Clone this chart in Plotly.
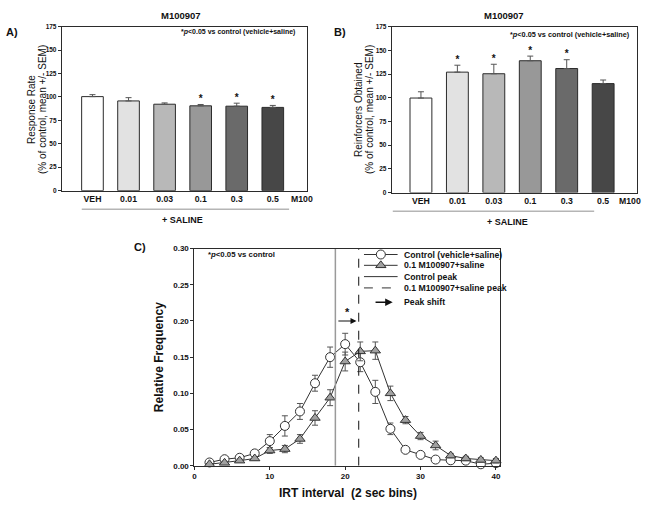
import plotly.graph_objects as go

W, H = 648, 511

# ---- data ----
doses = ["VEH", "0.01", "0.03", "0.1", "0.3", "0.5"]
bar_colors = ["#ffffff", "#e2e2e2", "#b8b8b8", "#989898", "#6a6a6a", "#474747"]

rate = [100.3, 95.7, 92.2, 90.5, 90.1, 88.8]
rate_sem = [2.1, 3.5, 1.4, 1.4, 3.2, 2.1]
rate_sig = [False, False, False, True, True, True]

reinf = [99.7, 127.0, 125.3, 139.0, 130.8, 114.9]
reinf_sem = [6.6, 7.3, 10.0, 4.9, 9.3, 3.8]
reinf_sig = [False, True, True, True, True, False]

irt_bins = [2, 4, 6, 8, 10, 12, 14, 16, 18, 20, 22, 24, 26, 28, 30, 32, 34, 36, 38, 40]
ctrl = [0.0045, 0.009, 0.011, 0.017, 0.034, 0.055, 0.075, 0.114, 0.150, 0.168,
        0.143, 0.102, 0.051, 0.022, 0.015, 0.0085, 0.0075, 0.007, 0.002, 0.0035]
ctrl_sem = [0.002, 0.003, 0.003, 0.004, 0.009, 0.014, 0.011, 0.011, 0.014, 0.015,
            0.013, 0.016, 0.008, 0.003, 0.002, 0.002, 0.002, 0.002, 0.001, 0.002]
drug = [0.002, 0.004, 0.007, 0.010, 0.021, 0.023, 0.037, 0.066, 0.094, 0.144,
        0.158, 0.159, 0.100, 0.063, 0.041, 0.028, 0.014, 0.010, 0.008, 0.007]
drug_sem = [0.001, 0.002, 0.002, 0.002, 0.004, 0.005, 0.006, 0.010, 0.011, 0.013,
            0.013, 0.012, 0.010, 0.005, 0.005, 0.006, 0.003, 0.003, 0.003, 0.003]
peaks = [18.7, 21.8]  # control peak, drug peak

legend_labels = ["Control (vehicle+saline)", "0.1 M100907+saline", "Control peak",
                 "0.1 M100907+saline peak", "Peak shift"]

FONT = "Arial, Liberation Sans, sans-serif"
DARK = "#2b2b2b"


def px_x(p):
    return p / W


def px_y(p):
    return 1 - p / H


fig = go.Figure()

# ---- bar panels A and B ----
pos = list(range(len(doses)))
for xa, ya, vals, sem, sig in [("x", "y", rate, rate_sem, rate_sig),
                               ("x2", "y2", reinf, reinf_sem, reinf_sig)]:
    fig.add_trace(go.Bar(
        x=pos, y=vals, width=0.6, xaxis=xa, yaxis=ya,
        marker=dict(color=bar_colors, line=dict(color=DARK, width=1)),
        error_y=dict(type="data", array=sem, arrayminus=[0] * len(sem), symmetric=False,
                     color="#555555", thickness=1, width=3),
        showlegend=False,
    ))
    # significance stars above the error bars
    sx = [p for p, s in zip(pos, sig) if s]
    sy = [v + e for v, e, s in zip(vals, sem, sig) if s]
    fig.add_trace(go.Scatter(
        x=sx, y=sy, mode="text", text=["*"] * len(sx), textposition="top center",
        textfont=dict(family=FONT, size=10, color="#111", weight="bold"),
        xaxis=xa, yaxis=ya, showlegend=False, cliponaxis=False,
    ))

# ---- panel C ----
fig.add_trace(go.Scatter(
    x=irt_bins, y=ctrl, mode="lines+markers", xaxis="x3", yaxis="y3",
    line=dict(color="#333", width=1),
    marker=dict(symbol="circle", size=9, color="white", line=dict(color="#333", width=1)),
    error_y=dict(type="data", array=ctrl_sem, color="#555", thickness=1, width=3),
    showlegend=False, cliponaxis=False,
))
fig.add_trace(go.Scatter(
    x=irt_bins, y=drug, mode="lines+markers", xaxis="x3", yaxis="y3",
    line=dict(color="#333", width=1),
    marker=dict(symbol="triangle-up", size=9, color="#a0a0a0", line=dict(color="#333", width=1)),
    error_y=dict(type="data", array=drug_sem, color="#555", thickness=1, width=3),
    showlegend=False, cliponaxis=False,
))
fig.add_trace(go.Scatter(
    x=[peaks[0], peaks[0]], y=[0, 0.30], mode="lines", xaxis="x3", yaxis="y3",
    line=dict(color="#9a9a9a", width=1.5), showlegend=False,
))
fig.add_trace(go.Scatter(
    x=[peaks[1], peaks[1]], y=[0, 0.30], mode="lines", xaxis="x3", yaxis="y3",
    line=dict(color="#111", width=1, dash="dash"), showlegend=False,
))
# peak shift arrow
fig.add_annotation(x=peaks[1] - 0.3, y=0.2, ax=peaks[0] + 0.2, ay=0.2,
                   xref="x3", yref="y3", axref="x3", ayref="y3", text="",
                   showarrow=True, arrowhead=2, arrowsize=1, arrowwidth=1.2, arrowcolor="#111")
fig.add_annotation(x=(peaks[0] + peaks[1]) / 2, y=0.2, xref="x3", yref="y3", text="*",
                   showarrow=False, yanchor="bottom", yshift=1,
                   font=dict(family=FONT, size=11, color="#111", weight="bold"))

# ---- compact legend for panel C, drawn by hand ----
rows = [255, 266, 277.5, 289, 303.5]
for i, r in enumerate(rows[:4]):
    fig.add_trace(go.Scatter(x=[0, 1], y=[r, r], mode="lines", xaxis="x4", yaxis="y4",
                             line=dict(color="#333", width=1, dash="dash" if i == 3 else "solid"),
                             showlegend=False, hoverinfo="skip"))
fig.add_trace(go.Scatter(x=[0.5], y=[rows[0]], mode="markers", xaxis="x4", yaxis="y4",
                         marker=dict(symbol="circle", size=9, color="white",
                                     line=dict(color="#333", width=1)),
                         showlegend=False, hoverinfo="skip", cliponaxis=False))
fig.add_trace(go.Scatter(x=[0.5], y=[rows[1]], mode="markers", xaxis="x4", yaxis="y4",
                         marker=dict(symbol="triangle-up", size=9, color="#a0a0a0",
                                     line=dict(color="#333", width=1)),
                         showlegend=False, hoverinfo="skip", cliponaxis=False))
fig.add_annotation(x=0.85, y=rows[4], ax=0.3, ay=rows[4], xref="x4", yref="y4",
                   axref="x4", ayref="y4", text="", showarrow=True, arrowhead=2,
                   arrowsize=1, arrowwidth=1.5, arrowcolor="#111")
for lab, r in zip(legend_labels, rows):
    fig.add_annotation(x=px_x(401), y=r, xref="paper", yref="y4", text=lab,
                       showarrow=False, xanchor="left", yanchor="middle",
                       font=dict(family=FONT, size=8.7, color="#111", weight="bold"))

# ---- axes ----
tickfont_small = dict(family=FONT, size=6.5, color="#111", weight="bold")
bar_x = dict(tickmode="array", tickvals=pos, ticktext=doses, ticks="", showgrid=False,
             zeroline=False, showline=True, linecolor=DARK, mirror=True, linewidth=1,
             tickfont=dict(family=FONT, size=8.7, color="#111", weight="bold"))
bar_y = dict(range=[0, 175], tickvals=[0, 25, 50, 75, 100, 125, 150, 175], ticks="outside",
             ticklen=3, tickcolor=DARK, showgrid=False, zeroline=False, showline=True,
             linecolor=DARK, mirror=True, linewidth=1, tickfont=tickfont_small)

fig.update_layout(
    width=W, height=H, margin=dict(l=0, r=0, t=0, b=0),
    paper_bgcolor="white", plot_bgcolor="white",
    font=dict(family=FONT, color="#111"),
    xaxis=dict(domain=[px_x(60), px_x(306)], range=[-0.85, 5.95], anchor="y", **bar_x),
    yaxis=dict(domain=[px_y(190), px_y(23)], anchor="x", **bar_y),
    xaxis2=dict(domain=[px_x(391), px_x(637)], range=[-0.8, 5.93], anchor="y2", **bar_x),
    yaxis2=dict(domain=[px_y(192), px_y(23)], anchor="x2", **bar_y),
    xaxis3=dict(domain=[px_x(193), px_x(500)], range=[0, 40.6], anchor="y3",
                tickvals=[0, 10, 20, 30, 40], ticks="outside", ticklen=3, tickcolor=DARK,
                showgrid=False, zeroline=False, showline=True, linecolor=DARK, mirror=True,
                tickfont=dict(family=FONT, size=8, color="#111", weight="bold")),
    yaxis3=dict(domain=[px_y(470), px_y(249)], range=[0, 0.30], anchor="x3",
                tickvals=[0, 0.05, 0.10, 0.15, 0.20, 0.25, 0.30], tickformat=".2f",
                ticks="outside", ticklen=3, tickcolor=DARK, showgrid=False, zeroline=False,
                showline=True, linecolor=DARK, mirror=True,
                tickfont=dict(family=FONT, size=8, color="#111", weight="bold")),
    xaxis4=dict(domain=[px_x(363), px_x(397)], range=[0, 1], anchor="y4", visible=False),
    yaxis4=dict(domain=[px_y(308), px_y(250)], range=[308, 250], anchor="x4", visible=False),
)


# ---- text and decorations ----
def ann(x, y, text, size, weight="bold", angle=0, xanchor="center", yanchor="middle"):
    fig.add_annotation(x=px_x(x), y=px_y(y), xref="paper", yref="paper", text=text,
                       showarrow=False, textangle=angle, xanchor=xanchor, yanchor=yanchor,
                       font=dict(family=FONT, size=size, color="#111", weight=weight))


# panel A
ann(180, 12, "M100907", 9.5)
ann(2, 28, "A)", 11, xanchor="left")
ann(301, 199, "M100", 8.7)
ann(181, 220, "+ SALINE", 9)
fig.add_shape(type="line", xref="paper", yref="paper", x0=px_x(80), x1=px_x(288),
              y0=px_y(209), y1=px_y(209), line=dict(color="#b5b5b5", width=1.5))
ann(29, 107, "Response Rate", 10, weight="normal", angle=-90)
ann(40, 107, "(% of control, mean +/- SEM)", 10, weight="normal", angle=-90)
ann(296, 29, "*<i>p</i><0.05 vs control (vehicle+saline)", 7, xanchor="right")

# panel B
ann(504, 12, "M100907", 9.5)
ann(331, 28, "B)", 11, xanchor="left")
ann(630, 201, "M100", 8.7)
ann(507, 222, "+ SALINE", 9)
fig.add_shape(type="line", xref="paper", yref="paper", x0=px_x(392), x1=px_x(594),
              y0=px_y(211), y1=px_y(211), line=dict(color="#b5b5b5", width=1.5))
ann(357, 107, "Reinforcers Obtained", 10, weight="normal", angle=-90)
ann(368, 107, "(% of control, mean +/- SEM)", 10, weight="normal", angle=-90)
ann(632, 31, "*<i>p</i><0.05 vs control (vehicle+saline)", 7.3, xanchor="right")

# panel C
ann(205, 255, "*<i>p</i><0.05 vs control", 7.8, xanchor="left")
ann(138, 247, "C)", 11)
ann(157, 360, "Relative Frequency", 12, angle=-90)
ann(347, 498, "IRT interval  (2 sec bins)", 12)

fig.write_html("out.html", config={"displayModeBar": False},
               post_script="document.body.style.margin='0';document.body.style.overflow='hidden';")
